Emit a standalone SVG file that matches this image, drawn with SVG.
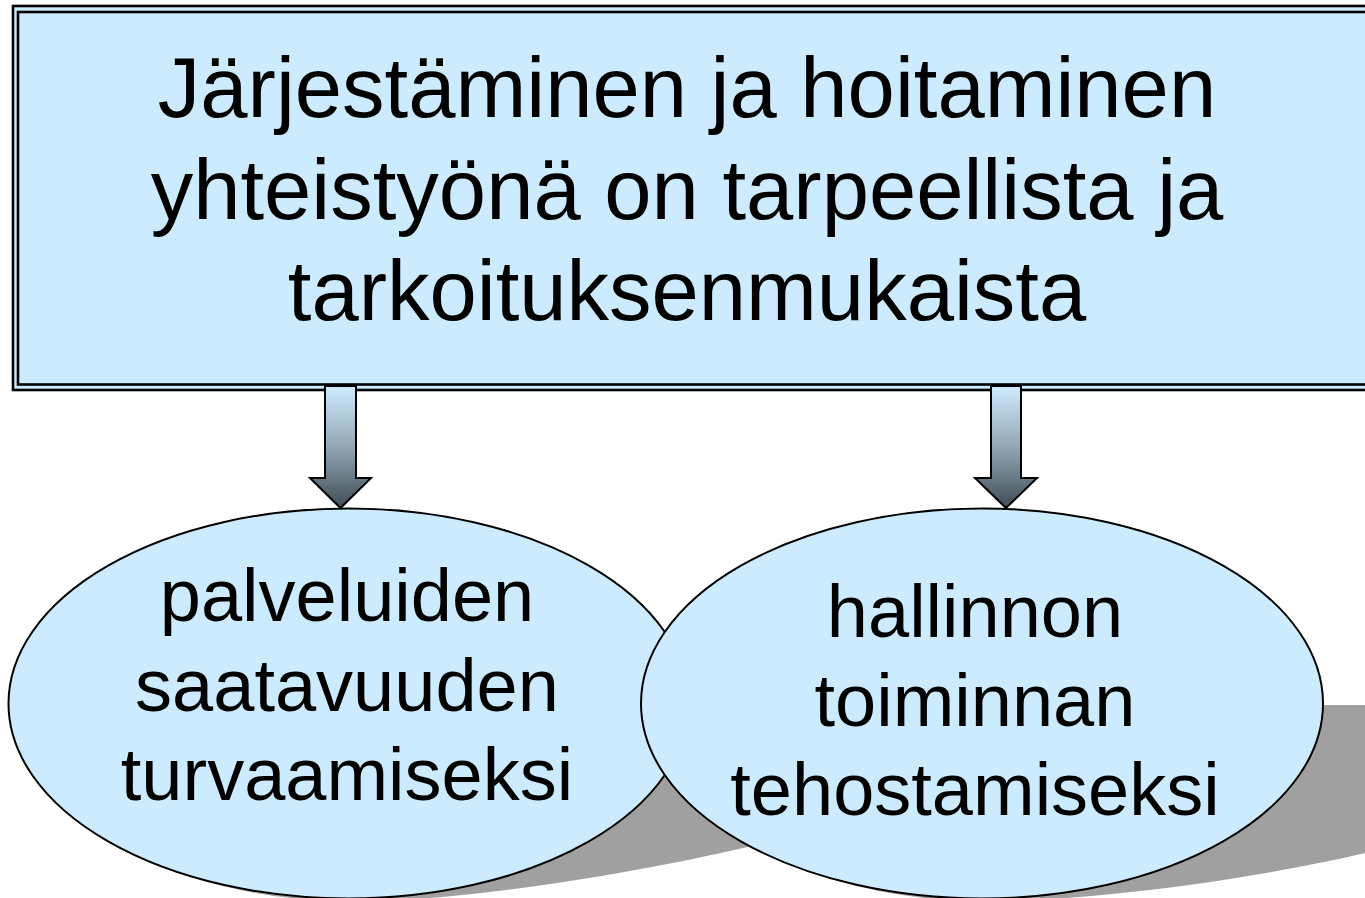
<svg xmlns="http://www.w3.org/2000/svg" width="1365" height="898" viewBox="0 0 1365 898">
  <style>
    .fill { fill: #CCEBFF; }
    .txt { font-family: "Liberation Sans", Arial, sans-serif; fill: #000; text-anchor: middle; }
    .title { font-size: 85px; }
    .label { font-size: 74px; }
    .shadow { fill: #A0A0A0; }
    .ell { fill: #CCEBFF; stroke: #000; stroke-width: 2; }
    .arrow { fill: url(#arrowGrad); stroke: #000; stroke-width: 2; stroke-linejoin: miter; }
  </style>
  <defs>
    <linearGradient id="arrowGrad" x1="0" y1="0" x2="0" y2="1">
      <stop offset="0" stop-color="#CFECFF"/>
      <stop offset="0.5" stop-color="#93A6B4"/>
      <stop offset="1" stop-color="#3F4D57"/>
    </linearGradient>
  </defs>
  <rect width="1365" height="898" fill="#FFFFFF"/>

  <g id="shadows">
    <path class="shadow" d="M153.2,863.3 A340,195 0 0 0 355.5,901.5 C470,901 640,872 743,848 C800,835 870,780 900,705 L355,705 Z"/>
    <path class="shadow" d="M786.7,863.3 A340,195 0 0 0 989,901.5 C1100,900 1250,880 1365,853 C1450,833 1540,790 1580,705 L989,705 Z"/>
  </g>

  <g id="node-left">
    <ellipse class="ell" cx="348.5" cy="703.5" rx="340" ry="195"/>
    <text class="txt label" x="347" y="621">palveluiden</text>
    <text class="txt label" x="347" y="711">saatavuuden</text>
    <text class="txt label" x="347" y="800">turvaamiseksi</text>
  </g>

  <g id="node-right">
    <ellipse class="ell" cx="982" cy="703.5" rx="341" ry="195"/>
    <text class="txt label" x="975" y="637">hallinnon</text>
    <text class="txt label" x="975" y="726">toiminnan</text>
    <text class="txt label" x="975" y="815">tehostamiseksi</text>
  </g>

  <g id="node-top">
    <rect x="13" y="6" width="1370" height="384" class="fill" stroke="#000" stroke-width="2.6"/>
    <rect x="18" y="12" width="1360" height="372.5" fill="none" stroke="#000" stroke-width="2.6"/>
    <text class="txt title" x="687" y="117">Järjestäminen ja hoitaminen</text>
    <text class="txt title" x="687" y="219">yhteistyönä on tarpeellista ja</text>
    <text class="txt title" x="687" y="320">tarkoituksenmukaista</text>
  </g>

  <g id="connectors">
    <path class="arrow" d="M325,386 L356,386 L356,478 L371,478 L340.5,508 L310,478 L325,478 Z"/>
    <path class="arrow" d="M991,386 L1021,386 L1021,478 L1037,478 L1006,508 L975,478 L991,478 Z"/>
  </g>
</svg>
